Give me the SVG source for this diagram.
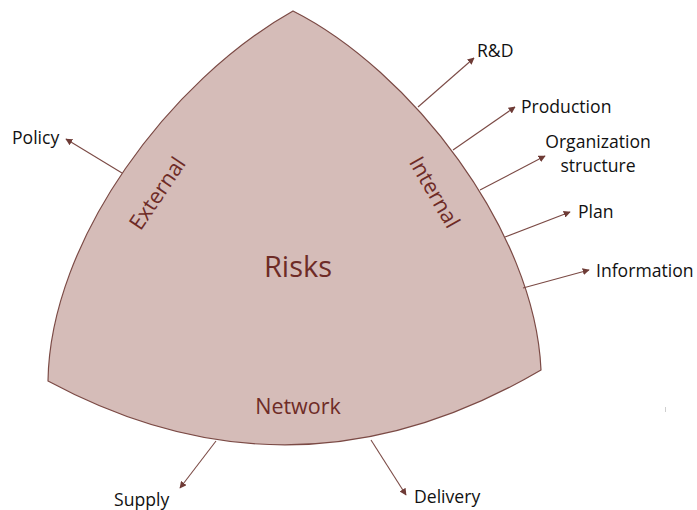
<svg xmlns="http://www.w3.org/2000/svg" width="697" height="510" viewBox="0 0 697 510">
  <style>
    .lbl { font-family: "Open Sans", "Liberation Sans", sans-serif; font-size: 17.6px; fill: #111; }
    .inner { font-family: "Open Sans", "Liberation Sans", sans-serif; fill: #6e2b26; }
    .conn { stroke: #7b4a45; stroke-width: 1.1; fill: none; marker-end: url(#tip); }
  </style>
  <defs>
    <marker id="tip" viewBox="0 0 10 10" refX="9" refY="5" markerWidth="7" markerHeight="7" markerUnits="userSpaceOnUse" orient="auto">
      <path d="M0,0 L10,5 L0,10 z" fill="#6e3b36"/>
    </marker>
  </defs>
  <rect width="697" height="510" fill="#ffffff"/>

  <!-- central curved triangle -->
  <g id="risks">
    <path d="M293,11 C410,70 535,230 541,370 Q295,514 48,381 C50,240 170,80 293,11 Z" fill="#d5bcb8" stroke="#7b4a45" stroke-width="1.2"/>
    <text class="inner" x="298" y="277" font-size="29" text-anchor="middle">Risks</text>
    <text class="inner" x="157" y="201" font-size="21.5" text-anchor="middle" transform="rotate(-56 157 193)">External</text>
    <text class="inner" x="435" y="200" font-size="21.5" text-anchor="middle" transform="rotate(60 435 192)">Internal</text>
    <text class="inner" x="298" y="414" font-size="21.5" text-anchor="middle">Network</text>
  </g>

  <!-- connectors -->
  <g id="connectors">
    <line class="conn" x1="122" y1="173" x2="66" y2="139"/>
    <line class="conn" x1="418" y1="107" x2="474" y2="58"/>
    <line class="conn" x1="453" y1="150" x2="515" y2="107"/>
    <line class="conn" x1="480" y1="190" x2="545" y2="156"/>
    <line class="conn" x1="505" y1="237" x2="570" y2="212"/>
    <line class="conn" x1="523" y1="288" x2="589" y2="270"/>
    <line class="conn" x1="216" y1="441" x2="180" y2="488"/>
    <line class="conn" x1="371" y1="440" x2="406" y2="495"/>
  </g>

  <g id="policy"><text class="lbl" x="12" y="144">Policy</text></g>
  <g id="rd"><text class="lbl" x="477" y="57">R&amp;D</text></g>
  <g id="production"><text class="lbl" x="521" y="113">Production</text></g>
  <g id="organization">
    <text class="lbl" x="598" y="148" text-anchor="middle">Organization</text>
    <text class="lbl" x="598" y="172" text-anchor="middle">structure</text>
  </g>
  <g id="plan"><text class="lbl" x="578" y="218">Plan</text></g>
  <g id="information"><text class="lbl" x="596" y="277">Information</text></g>
  <g id="supply"><text class="lbl" x="114" y="506">Supply</text></g>
  <g id="delivery"><text class="lbl" x="414" y="503">Delivery</text></g>

  <rect x="665" y="407" width="1" height="5" fill="#cfcfcf"/>
</svg>
